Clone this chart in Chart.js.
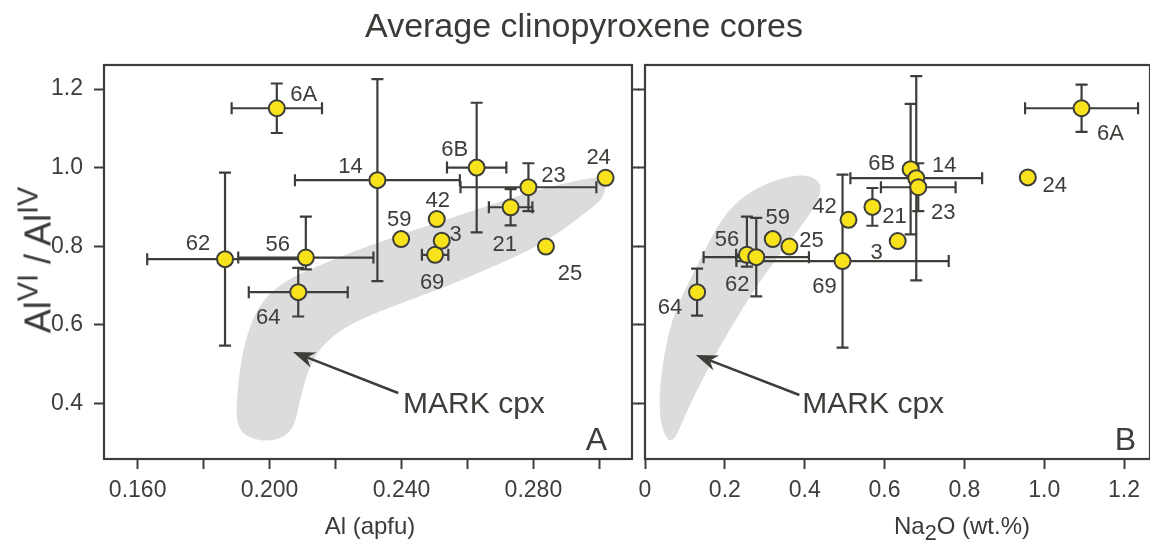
<!DOCTYPE html>
<html>
<head>
<meta charset="utf-8">
<title>Average clinopyroxene cores</title>
<script src="https://cdn.jsdelivr.net/npm/chart.js@4.4.1/dist/chart.umd.min.js"></script>
<style>
  html, body { margin: 0; padding: 0; width: 1150px; height: 544px; overflow: hidden; background: #fff; }
  #fig { position: relative; width: 1150px; height: 544px; font-family: "Liberation Sans", Arial, sans-serif; color: #3a3a37; }
  #fig canvas { position: absolute; left: 0; top: 0; }
  .lbl { position: absolute; white-space: nowrap; line-height: 1; }
  .lbl sup { font-size: 80%; vertical-align: 0.45em; line-height: 0; }
  .lbl sub { font-size: 90%; vertical-align: -0.3em; line-height: 0; }
  #title { font-size: 34px; left: 584px; top: 8px; transform: translateX(-50%); }
  #xtitleA { font-size: 24px; left: 370px; top: 514px; transform: translateX(-50%); }
  #xtitleB { font-size: 24px; left: 962px; top: 514px; transform: translateX(-50%); }
  #ytitle { font-size: 36px; left: 0; top: 0; transform-origin: 0 0;
            transform: translate(51px, 260px) rotate(-90deg) translate(-50%, -30.5px); }
</style>
</head>
<body>
<div id="fig">
  <canvas id="panelA" width="1150" height="544"></canvas>
  <canvas id="panelB" width="1160" height="544"></canvas>
  <div class="lbl" id="title">Average clinopyroxene cores</div>
  <div class="lbl" id="ytitle">Al<sup>VI</sup> / Al<sup>IV</sup></div>
  <div class="lbl" id="xtitleA">Al (apfu)</div>
  <div class="lbl" id="xtitleB">Na<sub>2</sub>O (wt.%)</div>
</div>
<script>
// sample numbers (drawing order: later ones sit on top)
const sampleIds = ['6A', '24', '21', '6B', '14', '23', '42', '59', '25', '69', '3', '64', '56', '62'];

// panel A : Al (apfu) vs AlVI/AlIV
const alApfu = [0.2022, 0.3019, 0.2731, 0.2628, 0.2327, 0.2785, 0.2507, 0.2399, 0.2838, 0.2502, 0.2522, 0.2087, 0.2110, 0.1865];
const ratioA = [1.151, 0.974, 0.899, 1.000, 0.968, 0.950, 0.869, 0.818, 0.799, 0.778, 0.814, 0.683, 0.771, 0.767];
const alErr = [0.0137, null, 0.0066, 0.009, 0.025, 0.0206, null, null, null, 0.004, null, 0.015, 0.0205, 0.0236];
// [below, above]
const ratioErrA = [[0.063, 0.063], null, [0.046, 0.046], [0.165, 0.165], [0.257, 0.257], [0.061, 0.061], null, null, null, null, null, [0.062, 0.062], [0.03, 0.104], [0.22, 0.22]];

// panel B : Na2O (wt.%) vs AlVI/AlIV
const na2o = [1.0936, 0.9589, 0.5697, 0.6654, 0.6795, 0.6845, 0.5098, 0.320, 0.3618, 0.4948, 0.6330, 0.1305, 0.2553, 0.2787];
const ratioB = [1.151, 0.975, 0.900, 0.996, 0.973, 0.950, 0.867, 0.818, 0.799, 0.762, 0.813, 0.683, 0.778, 0.772];
const na2oErr = [0.1415, null, null, null, 0.165, 0.0935, null, null, null, 0.266, null, null, 0.027, 0.132];
const ratioErrB = [[0.06, 0.06], null, [0.048, 0.048], [0.166, 0.166], [0.26, 0.26], [0.061, 0.061], null, null, null, [0.22, 0.22], null, [0.06, 0.06], [0.03, 0.097], [0.10, 0.10]];

// MARK cpx field outlines (x, AlVI/AlIV)
const markFieldA = [[0.1956, 0.307], [0.1910, 0.327], [0.1898, 0.371], [0.1904, 0.447], [0.1919, 0.536], [0.1947, 0.612],
  [0.1986, 0.671], [0.2062, 0.719], [0.2153, 0.752], [0.2244, 0.783], [0.2396, 0.829], [0.2517, 0.862], [0.2669, 0.905],
  [0.2790, 0.938], [0.2911, 0.963], [0.2987, 0.976], [0.3014, 0.968], [0.3020, 0.943], [0.3002, 0.913], [0.2957, 0.885],
  [0.2881, 0.836], [0.2790, 0.790], [0.2669, 0.745], [0.2547, 0.701], [0.2426, 0.663], [0.2305, 0.625], [0.2214, 0.587],
  [0.2153, 0.541], [0.2117, 0.485], [0.2092, 0.409], [0.2077, 0.345], [0.2047, 0.315], [0.2001, 0.304]];
const markFieldB = [[0.0574, 0.304], [0.0399, 0.345], [0.0349, 0.409], [0.0424, 0.485], [0.0549, 0.561], [0.0749, 0.633],
  [0.1123, 0.714], [0.1497, 0.790], [0.1946, 0.874], [0.2495, 0.930], [0.3119, 0.963], [0.3743, 0.981], [0.4167, 0.979],
  [0.4416, 0.958], [0.4366, 0.923], [0.4117, 0.879], [0.3743, 0.829], [0.3368, 0.778], [0.2994, 0.727], [0.2570, 0.663],
  [0.2246, 0.607], [0.1871, 0.544], [0.1497, 0.472], [0.1123, 0.396], [0.0873, 0.337], [0.0724, 0.307]];

// ticks
const alTicks = [0.16, 0.18, 0.20, 0.22, 0.24, 0.26, 0.28, 0.30];
const alTickLabels = ['0.160', '', '0.200', '', '0.240', '', '0.280', ''];
const naTicks = [0, 0.2, 0.4, 0.6, 0.8, 1.0, 1.2];
const naTickLabels = ['0', '0.2', '0.4', '0.6', '0.8', '1.0', '1.2'];
const ratioTicks = [0.4, 0.6, 0.8, 1.0, 1.2];
const ratioTickLabels = ['0.4', '0.6', '0.8', '1.0', '1.2'];

// where each sample number sits relative to its dot (px)
const labelOffsetA = [[27, -13], [-7, -20], [-6, 38], [-22, -18], [-27, -13], [25, -11], [1, -18], [-2, -19], [24, 27], [-3, 28], [14, -6], [-30, 26], [-28, -13], [-27, -15]];
const labelOffsetB = [[29, 26], [27, 9], [22, 10], [-29, -5], [28, -12], [25, 26], [-24, -13], [5, -21], [22, -6], [-18, 26], [-21, 12], [-27, 16], [-20, -15], [-19, 28]];

const ink = '#3d3d39';
const dotFill = '#f8e21c';
const fieldGrey = '#dcdcdc';

Chart.defaults.font.family = '"Liberation Sans", Arial, sans-serif';
Chart.defaults.color = ink;

const panels = {
  panelA: { xs: alApfu, ys: ratioA, xErr: alErr, yErr: ratioErrA, field: markFieldA, offsets: labelOffsetA,
            arrowTip: [0.2071, 0.5306], arrowTail: [0.2390, 0.4263], markText: [0.2405, 0.3754], letter: 'A', letterInset: 25 },
  panelB: { xs: na2o, ys: ratioB, xErr: na2oErr, yErr: ratioErrB, field: markFieldB, offsets: labelOffsetB,
            arrowTip: [0.1272, 0.523], arrowTail: [0.3867, 0.4212], markText: [0.3942, 0.3754], letter: 'B', letterInset: 14 }
};

function setTicks(values) {
  return function (scale) { scale.ticks = values.map(v => ({ value: v })); };
}
function fixedSize(w, h) {
  return function (scale) {
    if (w != null) scale.width = w;
    if (h != null) scale.height = h;
  };
}

const panelArt = {
  id: 'panelArt',
  beforeDatasetsDraw(chart) {
    const p = panels[chart.canvas.id];
    const ctx = chart.ctx, area = chart.chartArea;
    const X = v => chart.scales.x.getPixelForValue(v), Y = v => chart.scales.y.getPixelForValue(v);
    ctx.save();
    ctx.beginPath();
    ctx.rect(area.left, area.top, area.right - area.left, area.bottom - area.top);
    ctx.clip();

    // grey field, smoothed through the midpoints
    const pts = p.field.map(q => [X(q[0]), Y(q[1])]);
    const n = pts.length;
    const mid = (a, b) => [(a[0] + b[0]) / 2, (a[1] + b[1]) / 2];
    const m0 = mid(pts[n - 1], pts[0]);
    ctx.beginPath();
    ctx.moveTo(m0[0], m0[1]);
    for (let i = 0; i < n; i++) {
      const nx = mid(pts[i], pts[(i + 1) % n]);
      ctx.quadraticCurveTo(pts[i][0], pts[i][1], nx[0], nx[1]);
    }
    ctx.closePath();
    ctx.fillStyle = fieldGrey;
    ctx.fill();

    // error bars
    ctx.strokeStyle = ink;
    ctx.lineWidth = 2.2;
    const cap = 6;
    p.xs.forEach((xv, i) => {
      const cx = X(xv), cy = Y(p.ys[i]);
      const ex = p.xErr[i], ey = p.yErr[i];
      ctx.beginPath();
      if (ex != null) {
        const a = X(xv - ex), b = X(xv + ex);
        ctx.moveTo(a, cy); ctx.lineTo(b, cy);
        ctx.moveTo(a, cy - cap); ctx.lineTo(a, cy + cap);
        ctx.moveTo(b, cy - cap); ctx.lineTo(b, cy + cap);
      }
      if (ey != null) {
        const a = Y(p.ys[i] - ey[0]), b = Y(p.ys[i] + ey[1]);
        ctx.moveTo(cx, a); ctx.lineTo(cx, b);
        ctx.moveTo(cx - cap, a); ctx.lineTo(cx + cap, a);
        ctx.moveTo(cx - cap, b); ctx.lineTo(cx + cap, b);
      }
      ctx.stroke();
    });
    ctx.restore();
  },
  afterDatasetsDraw(chart) {
    const p = panels[chart.canvas.id];
    const ctx = chart.ctx, area = chart.chartArea;
    const X = v => chart.scales.x.getPixelForValue(v), Y = v => chart.scales.y.getPixelForValue(v);
    ctx.save();
    ctx.fillStyle = ink;
    ctx.strokeStyle = ink;

    // sample numbers
    ctx.font = '22px "Liberation Sans", Arial, sans-serif';
    ctx.textAlign = 'center';
    ctx.textBaseline = 'middle';
    sampleIds.forEach((id, i) => {
      const o = p.offsets[i];
      ctx.fillText(id, X(p.xs[i]) + o[0], Y(p.ys[i]) + o[1]);
    });

    // arrow to the MARK field
    const tx = X(p.arrowTip[0]), ty = Y(p.arrowTip[1]);
    const bx = X(p.arrowTail[0]), by = Y(p.arrowTail[1]);
    const ang = Math.atan2(ty - by, tx - bx);
    const ux = Math.cos(ang), uy = Math.sin(ang), nx = -uy, ny = ux;
    const len = 22, half = 8, notch = 15;
    ctx.lineWidth = 2.5;
    ctx.beginPath();
    ctx.moveTo(bx, by);
    ctx.lineTo(tx - ux * notch, ty - uy * notch);
    ctx.stroke();
    ctx.beginPath();
    ctx.moveTo(tx, ty);
    ctx.lineTo(tx - ux * len + nx * half, ty - uy * len + ny * half);
    ctx.lineTo(tx - ux * notch, ty - uy * notch);
    ctx.lineTo(tx - ux * len - nx * half, ty - uy * len - ny * half);
    ctx.closePath();
    ctx.fill();

    ctx.font = '30px "Liberation Sans", Arial, sans-serif';
    ctx.textAlign = 'left';
    ctx.textBaseline = 'alphabetic';
    ctx.fillText('MARK cpx', X(p.markText[0]), Y(p.markText[1]));

    // panel letter
    ctx.font = '32px "Liberation Sans", Arial, sans-serif';
    ctx.textAlign = 'right';
    ctx.fillText(p.letter, area.right - p.letterInset, area.bottom - 9);

    // frame
    ctx.lineWidth = 2.2;
    ctx.strokeRect(area.left, area.top, area.right - area.left, area.bottom - area.top);
    ctx.restore();
  }
};

function xAxis(min, max, tickVals, tickText) {
  return {
    type: 'linear', position: 'bottom', min: min, max: max,
    afterBuildTicks: setTicks(tickVals),
    afterFit: fixedSize(null, 85),
    ticks: { autoSkip: false, maxRotation: 0, padding: 8, font: { size: 23 }, color: ink,
             callback: (v, i) => tickText[i] },
    grid: { drawOnChartArea: false, drawTicks: true, tickLength: 10, tickColor: ink, tickWidth: 2 },
    border: { display: false }
  };
}
function yAxis(position, width, tickLen, showLabels) {
  return {
    type: 'linear', position: position, min: 0.2583, max: 1.2611,
    afterBuildTicks: setTicks(ratioTicks),
    afterFit: fixedSize(width, null),
    ticks: { display: showLabels, padding: 11, font: { size: 23 }, color: ink,
             callback: (v, i) => ratioTickLabels[i] },
    grid: { drawOnChartArea: false, drawTicks: true, tickLength: tickLen, tickColor: ink, tickWidth: 2 },
    border: { display: false }
  };
}

function pointSet(xs, ys) {
  return {
    type: 'scatter',
    data: xs.map((v, i) => ({ x: v, y: ys[i] })),
    pointRadius: 8,
    pointBorderWidth: 2,
    pointBackgroundColor: dotFill,
    pointBorderColor: ink
  };
}

const commonOpts = {
  responsive: false,
  animation: false,
  events: [],
  plugins: { legend: { display: false }, tooltip: { enabled: false } }
};

new Chart(document.getElementById('panelA'), {
  type: 'scatter',
  data: { datasets: [pointSet(alApfu, ratioA)] },
  options: Object.assign({}, commonOpts, {
    layout: { padding: { left: 0, top: 65, right: 506, bottom: 0 } },
    scales: {
      x: xAxis(0.1498, 0.3099, alTicks, alTickLabels),
      y: yAxis('left', 104, 10, true),
      yR: yAxis('right', 12, 7, false)
    }
  }),
  plugins: [panelArt]
});

new Chart(document.getElementById('panelB'), {
  type: 'scatter',
  data: { datasets: [pointSet(na2o, ratioB)] },
  options: Object.assign({}, commonOpts, {
    layout: { padding: { left: 633, top: 65, right: 8, bottom: 0 } },
    scales: {
      x: xAxis(0, 1.265, naTicks, naTickLabels),
      y: yAxis('left', 12, 7, false)
    }
  }),
  plugins: [panelArt]
});
</script>
</body>
</html>
